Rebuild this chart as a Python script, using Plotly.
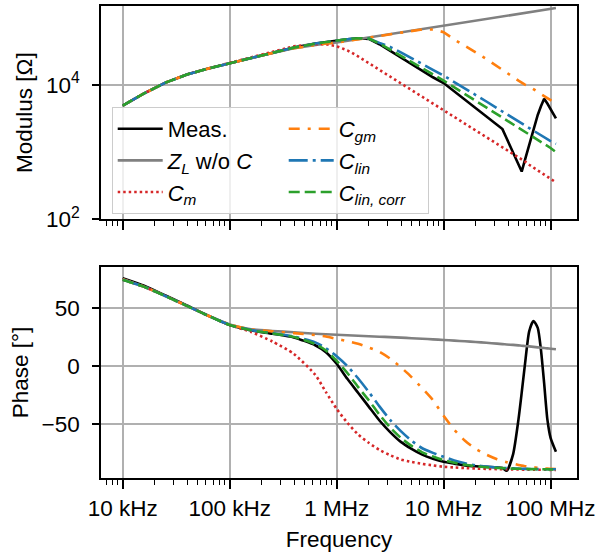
import plotly.graph_objects as go
from plotly.subplots import make_subplots

# ---------------- data ----------------
freq_hz = [1.0e4, 1.585e4, 2.512e4, 3.981e4, 6.310e4, 1.0e5, 1.585e5, 2.512e5, 3.981e5,
           6.310e5, 7.943e5, 1.0e6, 1.259e6, 1.585e6, 1.995e6, 2.512e6, 3.162e6, 3.981e6,
           5.012e6, 6.310e6, 7.943e6, 1.0e7, 1.259e7, 1.585e7, 1.995e7, 2.512e7, 3.162e7,
           3.548e7, 3.890e7, 4.467e7, 5.012e7, 5.370e7, 5.754e7, 6.310e7, 6.918e7, 7.586e7,
           8.128e7, 8.710e7, 9.333e7, 1.0e8, 1.122e8]

meas_mod = [4898, 7413, 10720, 14130, 17380, 20890, 25120, 30200, 35480, 40740, 43150,
            45190, 47320, 48980, 47860, 39810, 31620, 25120, 19950, 15850, 12880, 10590,
            7943, 6026, 4467, 3388, 2570, 2188, 1585, 1000, 660.7, 512.9, 758.6, 1288,
            2188, 3548, 4786, 6166, 5248, 4365, 3162]
zl_mod = [4898, 7413, 10720, 14130, 17380, 20890, 25120, 29510, 34670, 38900, 40740,
          42170, 44670, 47320, 50120, 53090, 56230, 58880, 61660, 65310, 69180, 73280,
          77800, 82600, 87700, 93100, 98850, 101800, 104200, 108100, 111400, 113500,
          115600, 118300, 121100, 124200, 126500, 128500, 130900, 133400, 137400]
cm_mod = [4898, 7413, 10720, 14130, 17380, 20890, 25700, 30900, 37150, 39810, 39810,
          37150, 32360, 26300, 20890, 16600, 13180, 10720, 8511, 6761, 5370, 4266,
          3388, 2692, 2138, 1698, 1318, 1175, 1072, 933.3, 831.8, 776.2, 724.4, 645.7,
          588.8, 537.0, 501.2, 467.7, 436.5, 398.1, 354.8]
cgm_mod = [4898, 7413, 10720, 14130, 17380, 20890, 25120, 29510, 34670, 38900, 40740,
           42170, 44670, 47320, 50120, 53090, 56890, 60260, 63100, 66070, 66070, 60260,
           46770, 38020, 30200, 23990, 18620, 16600, 15140, 12880, 11480, 10720, 10000,
           9441, 8511, 7762, 7244, 6761, 6310, 5888, 5248]
clin_mod = [4898, 7413, 10720, 14130, 17380, 20890, 25120, 30200, 35480, 40740, 43150,
            45190, 47320, 48980, 48420, 41690, 36310, 30200, 24550, 19950, 16600, 13610,
            10960, 8710, 7079, 5623, 4467, 3981, 3631, 3162, 2884, 2692, 2512, 2291,
            2089, 1905, 1778, 1660, 1549, 1445, 1318]
ccorr_mod = [4898, 7413, 10720, 14130, 17380, 20890, 25120, 30200, 35480, 40740, 43150,
             45190, 47320, 48980, 48420, 40740, 33110, 26920, 21880, 17580, 14130, 11480,
             9120, 7244, 5888, 4677, 3715, 3311, 3020, 2630, 2344, 2188, 2042, 1862,
             1698, 1549, 1445, 1349, 1259, 1148, 1000]

meas_ph = [76, 69.5, 61, 52.5, 43.5, 35.4, 30.8, 28, 24.8, 18, 12, 2, -11, -23, -35,
           -47, -57, -65.5, -71.5, -76.5, -80, -82.7, -84.3, -85.8, -86.6, -87.1, -87.5,
           -88, -90.5, -76, -46, -23, 1, 30, 39, 33, 14, -15, -46, -62, -74]
zl_ph = [75, 68.5, 60.5, 52, 43.5, 36, 31.8, 30.3, 29.2, 28.0, 27.5, 27.1, 26.6, 26.2,
         25.8, 25.4, 25, 24.6, 24.1, 23.6, 23.1, 22.6, 22, 21.4, 20.8, 20.1, 19.4, 19,
         18.7, 18.3, 17.9, 17.6, 17.4, 17, 16.6, 16.2, 15.9, 15.6, 15.3, 15, 14.6]
cm_ph = [74.5, 68.5, 60.5, 52, 43.5, 35.5, 29.5, 21.2, 10.5, -7.5, -22.5, -37, -49, -59,
         -66.3, -72.5, -77, -80.7, -82.8, -84.5, -85.8, -87, -87.6, -88.1, -88.5, -88.8,
         -89, -89.1, -89.2, -89.3, -89.4, -89.4, -89.5, -89.5, -89.5, -89.6, -89.6,
         -89.6, -89.6, -89.7, -89.7]
cgm_ph = [75, 68.5, 60.5, 52, 43.5, 36, 31.8, 30, 28.5, 26.8, 25.5, 23.5, 21.5, 19.3, 16,
          12.4, 6.5, -1, -9.5, -19.2, -29.4, -43, -55, -64.5, -71.5, -76.5, -80.5, -82,
          -83, -84.3, -85.4, -86, -86.5, -87, -87.4, -87.8, -88.1, -88.4, -88.6, -88.8, -89]
clin_ph = [74.5, 68.5, 60.5, 52, 43.5, 35.6, 31.2, 28.3, 25.6, 20.5, 15.5, 8.5, 0, -10.5,
           -22.3, -34.8, -46.5, -56.2, -64.5, -71, -75, -78.4, -81.5, -84, -85.8, -86.8,
           -87.6, -88, -88.2, -88.4, -88.6, -88.7, -88.8, -88.9, -89, -89, -89.1, -89.1,
           -89.2, -89.2, -89.2]
ccorr_ph = [74.5, 68.5, 60.5, 52, 43.5, 35.5, 31, 28.1, 25.2, 19, 13.5, 4.5, -6, -18,
            -29.5, -42, -53, -62, -69, -74.5, -78.2, -81.2, -83.5, -85.3, -86.6, -87.4,
            -88, -88.2, -88.4, -88.6, -88.7, -88.8, -88.9, -89, -89, -89.1, -89.1, -89.2,
            -89.2, -89.3, -89.3]

x_tick_vals = [1e4, 1e5, 1e6, 1e7, 1e8]
x_tick_text = ["10 kHz", "100 kHz", "1 MHz", "10 MHz", "100 MHz"]
mod_tick_vals = [1e2, 1e4]
mod_tick_text = ["10<sup>2</sup>", "10<sup>4</sup>"]
ph_tick_vals = [-50, 0, 50]
ph_tick_text = ["\u221250", "0", "50"]

# ---------------- styling ----------------
FONT = "Liberation Sans, Arial, sans-serif"
# name, modulus, phase, colour, dash, legend rank, legend entry width
series = [
    ("Meas.", meas_mod, meas_ph, "black", "solid", 1, 111),
    ("<i>Z</i><sub><i>L</i></sub> w/o <i>C</i>", zl_mod, zl_ph, "#808080", "solid", 3, 111),
    ("<i>C</i><sub><i>m</i></sub>", cm_mod, cm_ph, "#d62728", "2.5px,3px", 5, 111),
    ("<i>C</i><sub><i>gm</i></sub>", cgm_mod, cgm_ph, "#ff7f0e", "11px,8px,3px,8px", 2, 84),
    ("<i>C</i><sub><i>lin</i></sub>", clin_mod, clin_ph, "#1f77b4", "19px,5px,3px,5px", 4, 84),
    ("<i>C</i><sub><i>lin, corr</i></sub>", ccorr_mod, ccorr_ph, "#2ca02c", "11px,5px", 6, 84),
]

fig = make_subplots(rows=2, cols=1, shared_xaxes=False)
for name, mod, ph, color, dash, rank, lw in series:
    fig.add_trace(go.Scatter(x=freq_hz, y=mod, mode="lines", name=name,
                             line=dict(color=color, width=2.6, dash=dash),
                             legendrank=rank, legendwidth=lw, showlegend=True),
                  row=1, col=1)
    fig.add_trace(go.Scatter(x=freq_hz, y=ph, mode="lines", name=name,
                             line=dict(color=color, width=2.6, dash=dash,
                                       shape="spline", smoothing=0.6),
                             showlegend=False), row=2, col=1)

minor_vals = [m * 10 ** e for e in range(3, 8) for m in range(2, 10)]

TICK_FONT = dict(family=FONT, size=22.5, color="black")
common_x = dict(type="log", range=[3.797, 8.247], tickmode="array", tickvals=x_tick_vals,
                ticks="outside", ticklen=9, tickwidth=1.6, tickcolor="black",
                showline=True, linecolor="black", linewidth=1.6, mirror=True,
                showgrid=True, gridcolor="#b0b0b0", gridwidth=1.5, zeroline=False,
                automargin=False,
                minor=dict(tickmode="array", tickvals=minor_vals, ticks="outside",
                           ticklen=5, tickwidth=1.2, tickcolor="black", showgrid=False),
                tickfont=TICK_FONT)
common_y = dict(ticks="outside", ticklen=7, tickwidth=1.6, tickcolor="black",
                showline=True, linecolor="black", linewidth=1.6, mirror=True,
                showgrid=True, gridcolor="#b0b0b0", gridwidth=1.5, zeroline=False,
                automargin=False, tickfont=TICK_FONT)

fig.update_layout(
    width=602, height=556,
    margin=dict(l=101, r=25, t=6, b=78),
    paper_bgcolor="white", plot_bgcolor="white",
    font=dict(family=FONT, size=22, color="black"),
    xaxis=dict(common_x, domain=[0, 1], anchor="y", showticklabels=False),
    xaxis2=dict(common_x, domain=[0, 1], anchor="y2", ticktext=x_tick_text,
                ticklabelstandoff=0,
                title=dict(text="Frequency", standoff=11,
                           font=dict(family=FONT, size=22.5, color="black"))),
    yaxis=dict(common_y, type="log", range=[2, 5.168], domain=[0.548, 1.0],
               tickmode="array", tickvals=mod_tick_vals, ticktext=mod_tick_text,
               ticklabelstandoff=8,
               title=dict(text="Modulus [\u03a9]", standoff=7,
                          font=dict(family=FONT, size=22.5, color="black"))),
    yaxis2=dict(common_y, range=[-96.7, 85.6], domain=[0.0, 0.447],
                tickmode="array", tickvals=ph_tick_vals, ticktext=ph_tick_text,
                ticklabelstandoff=8,
                title=dict(text="Phase [\u00b0]", standoff=7,
                           font=dict(family=FONT, size=22.5, color="black"))),
    legend=dict(orientation="h", x=0.0225, y=0.786, xanchor="left", yanchor="top",
                xref="paper", yref="paper",
                entrywidth=111, entrywidthmode="pixels", itemwidth=45,
                font=dict(family=FONT, size=22, color="black"),
                bgcolor="rgba(255,255,255,0.8)", bordercolor="#cccccc", borderwidth=1,
                traceorder="normal"),
    showlegend=True,
)

fig.write_html("out.html",
               config={"displayModeBar": False},
               post_script="document.body.style.margin='0px';"
                           "document.body.style.overflow='hidden';")
